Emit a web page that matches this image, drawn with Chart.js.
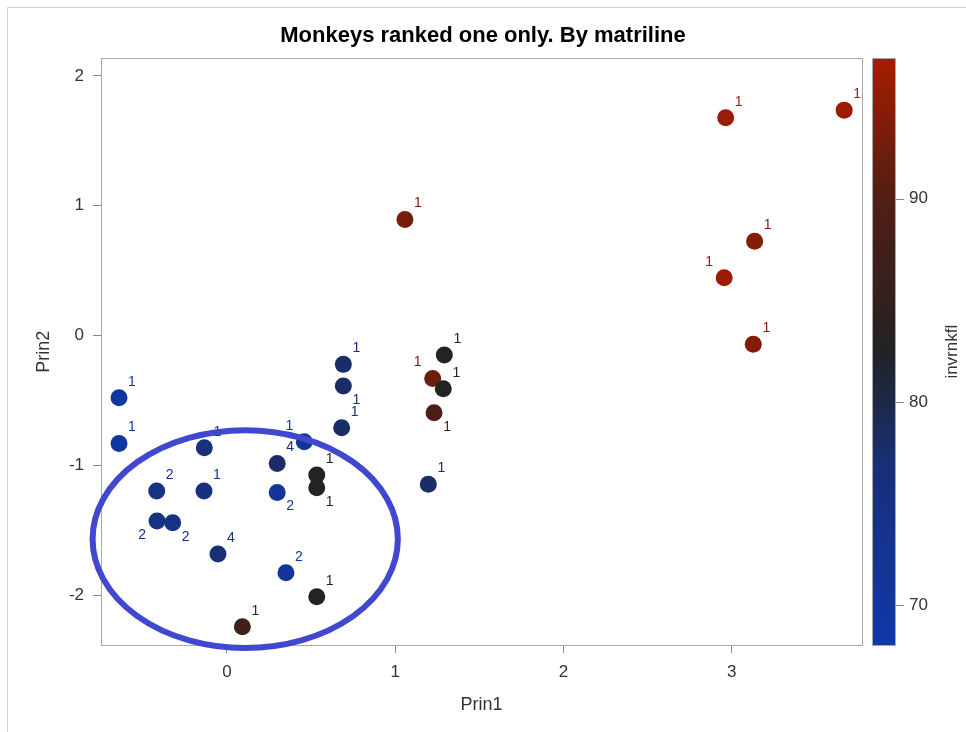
<!DOCTYPE html>
<html>
<head>
<meta charset="utf-8">
<script src="https://cdn.jsdelivr.net/npm/chart.js@4/dist/chart.umd.min.js"></script>
<style>
html,body{margin:0;padding:0;background:#fff;}
#wrap{width:966px;height:732px;position:relative;}
</style>
</head>
<body>
<div id="wrap"><canvas id="c" width="966" height="732"></canvas></div>
<script>
// ---- data ----
const prin1 = [-0.641,-0.641,-0.134,-0.417,-0.136,-0.415,-0.322,-0.053,0.299,0.460,
               0.299,0.534,0.534,0.351,0.534,0.092,0.692,0.692,0.682,1.292,
               1.223,1.286,1.231,1.197,1.058,2.964,3.668,3.136,2.955,3.128];
const prin2 = [-0.477,-0.828,-0.862,-1.195,-1.195,-1.425,-1.438,-1.679,-0.982,-0.815,
               -1.205,-1.072,-1.169,-1.823,-2.008,-2.238,-0.220,-0.387,-0.708,-0.148,
               -0.328,-0.408,-0.592,-1.143,0.895,1.677,1.736,0.728,0.446,-0.066];
const invrnkfl = [70,70,76,75,75.5,75,75,77,78,71,
                  71,83,83,71,83,87,78,78,78,83,
                  92,83,89,78,93,96,96,94,96,94];
const pointLabels = ['1','1','1','2','1','2','2','4','4','1',
                     '2','1','1','2','1','1','1','1','1','1',
                     '1','1','1','1','1','1','1','1','1','1'];
// label placement relative to marker: ur = upper right, lr = lower right, ul = upper left, ll = lower left
const labelPlace = ['ur','ur','ur','ur','ur','ll','lr','ur','ur','ul',
                    'lr','ur','lr','ur','ur','ur','ur','lr','ur','ur',
                    'ul','ur','lr','ur','ur','ur','ur','ur','ul','ur'];
const xTicks = [0,1,2,3];
const yTicks = [-2,-1,0,1,2];
const colorTicks = [70,80,90];
const xRange = [-0.748, 3.774];
const yRange = [-2.379, 2.134];
const colorRange = [68.04, 96.9];
const ellipseCenter = [0.109, -1.564];
const ellipseRadii = [0.907, 0.838];

// ---- colour ramp (blue -> black -> red) ----
const rampStops = [[0,[16,56,170]],[0.3,[24,48,122]],[0.5,[34,34,36]],[0.76,[82,30,20]],[1,[166,28,0]]];
function rampColor(v){
  let t = (v - colorRange[0])/(colorRange[1]-colorRange[0]);
  t = Math.max(0, Math.min(1, t));
  for (let i=1;i<rampStops.length;i++){
    const [t1,c1] = rampStops[i];
    const [t0,c0] = rampStops[i-1];
    if (t <= t1){
      const f = (t - t0)/(t1 - t0);
      const c = c0.map((a,k)=>Math.round(a + (c1[k]-a)*f));
      return `rgb(${c[0]},${c[1]},${c[2]})`;
    }
  }
  const c = rampStops[rampStops.length-1][1];
  return `rgb(${c[0]},${c[1]},${c[2]})`;
}

const FONT = "'Liberation Sans', Arial, sans-serif";
const pointColors = invrnkfl.map(rampColor);

const decorPlugin = {
  id:'decor',
  beforeDraw(chart){
    const ctx = chart.ctx;
    ctx.save();
    ctx.fillStyle = '#fff';
    ctx.fillRect(0,0,chart.width,chart.height);
    ctx.strokeStyle = '#d0d0d0';
    ctx.lineWidth = 1;
    ctx.beginPath();
    ctx.moveTo(7.5, chart.height); ctx.lineTo(7.5, 7.5); ctx.lineTo(chart.width, 7.5);
    ctx.stroke();
    ctx.restore();
  },
  beforeDatasetsDraw(chart){
    const {ctx, chartArea:a} = chart;
    ctx.save();
    ctx.strokeStyle = '#a8a8a8';
    ctx.lineWidth = 1;
    ctx.strokeRect(Math.round(a.left)+0.5, Math.round(a.top)+0.5, Math.round(a.right-a.left), Math.round(a.bottom-a.top));
    // colour bar
    const cs = chart.scales.c;
    const x0 = 872, x1 = 896;
    const yTop = cs.getPixelForValue(colorRange[1]);
    const yBot = cs.getPixelForValue(colorRange[0]);
    const g = ctx.createLinearGradient(0, yBot, 0, yTop);
    rampStops.forEach(([t,c])=>g.addColorStop(t, `rgb(${c[0]},${c[1]},${c[2]})`));
    ctx.fillStyle = g;
    ctx.fillRect(x0, yTop, x1-x0, yBot-yTop);
    ctx.strokeStyle = '#a8a8a8';
    ctx.strokeRect(x0+0.5, Math.round(yTop)+0.5, x1-x0-1, Math.round(yBot-yTop));
    ctx.strokeStyle = '#888';
    colorTicks.forEach(v=>{
      const y = Math.round(cs.getPixelForValue(v))+0.5;
      ctx.beginPath(); ctx.moveTo(x1, y); ctx.lineTo(x1+8, y); ctx.stroke();
    });
    // colour bar title
    ctx.fillStyle = '#333';
    ctx.font = `17px ${FONT}`;
    ctx.textAlign = 'center';
    ctx.textBaseline = 'middle';
    ctx.translate(952, (yTop+yBot)/2);
    ctx.rotate(-Math.PI/2);
    ctx.fillText('invrnkfl', 0, 0);
    ctx.restore();
  },
  afterDatasetsDraw(chart){
    const {ctx} = chart;
    const meta = chart.getDatasetMeta(0);
    ctx.save();
    ctx.font = `14px ${FONT}`;
    ctx.textAlign = 'center';
    ctx.textBaseline = 'middle';
    meta.data.forEach((el,i)=>{
      const p = labelPlace[i];
      const dx = p[1]==='r' ? 13 : -15;
      const dy = p[0]==='u' ? -16 : 14;
      ctx.fillStyle = pointColors[i];
      ctx.fillText(pointLabels[i], el.x + dx, el.y + dy);
    });
    ctx.restore();
  },
  afterDraw(chart){
    const {ctx, scales:{x, y}} = chart;
    const cx = x.getPixelForValue(ellipseCenter[0]);
    const cy = y.getPixelForValue(ellipseCenter[1]);
    const rx = x.getPixelForValue(ellipseCenter[0]+ellipseRadii[0]) - cx;
    const ry = cy - y.getPixelForValue(ellipseCenter[1]+ellipseRadii[1]);
    ctx.save();
    ctx.strokeStyle = 'rgb(64,72,208)';
    ctx.lineWidth = 6;
    ctx.beginPath();
    ctx.ellipse(cx, cy, rx, ry, 0, 0, Math.PI*2);
    ctx.stroke();
    ctx.restore();
  }
};

new Chart(document.getElementById('c'), {
  type:'scatter',
  data:{
    datasets:[{
      data: prin1.map((v,i)=>({x:v, y:prin2[i]})),
      pointRadius: 8.5,
      pointHoverRadius: 8.5,
      pointBackgroundColor: pointColors,
      pointBorderWidth: 0,
      borderWidth: 0
    }]
  },
  options:{
    responsive:false,
    animation:false,
    events:[],
    layout:{padding:0},
    plugins:{
      legend:{display:false},
      tooltip:{enabled:false},
      title:{
        display:true,
        text:'Monkeys ranked one only. By matriline',
        color:'#000',
        font:{family:FONT, size:22, weight:'bold'},
        padding:{top:23, bottom:9}
      }
    },
    scales:{
      x:{
        type:'linear', position:'bottom',
        min:xRange[0], max:xRange[1],
        afterBuildTicks(s){ s.ticks = xTicks.map(v=>({value:v})); },
        afterFit(s){ s.height = 87; },
        grid:{drawOnChartArea:false, drawTicks:true, tickLength:8, color:'#888'},
        border:{display:false},
        ticks:{padding:9, color:'#333', font:{family:FONT, size:17}, callback:v=>String(v)},
        title:{display:true, text:'Prin1', color:'#333', font:{family:FONT, size:18}, padding:{top:0, bottom:16}}
      },
      y:{
        type:'linear', position:'left',
        min:yRange[0], max:yRange[1],
        afterBuildTicks(s){ s.ticks = yTicks.map(v=>({value:v})); },
        afterFit(s){ s.width = 101; },
        grid:{drawOnChartArea:false, drawTicks:true, tickLength:8, color:'#888'},
        border:{display:false},
        ticks:{padding:9, color:'#333', font:{family:FONT, size:17}, callback:v=>String(v)},
        title:{display:true, text:'Prin2', color:'#333', font:{family:FONT, size:18}, padding:{top:33, bottom:0}}
      },
      c:{
        type:'linear', position:'right', display:true,
        min:colorRange[0], max:colorRange[1],
        afterBuildTicks(s){ s.ticks = colorTicks.map(v=>({value:v})); },
        afterFit(s){ s.width = 104; },
        grid:{display:false, drawTicks:false, drawOnChartArea:false},
        border:{display:false},
        ticks:{padding:47, color:'#333', font:{family:FONT, size:17}, callback:v=>String(v)}
      }
    }
  },
  plugins:[decorPlugin]
});
</script>
</body>
</html>
